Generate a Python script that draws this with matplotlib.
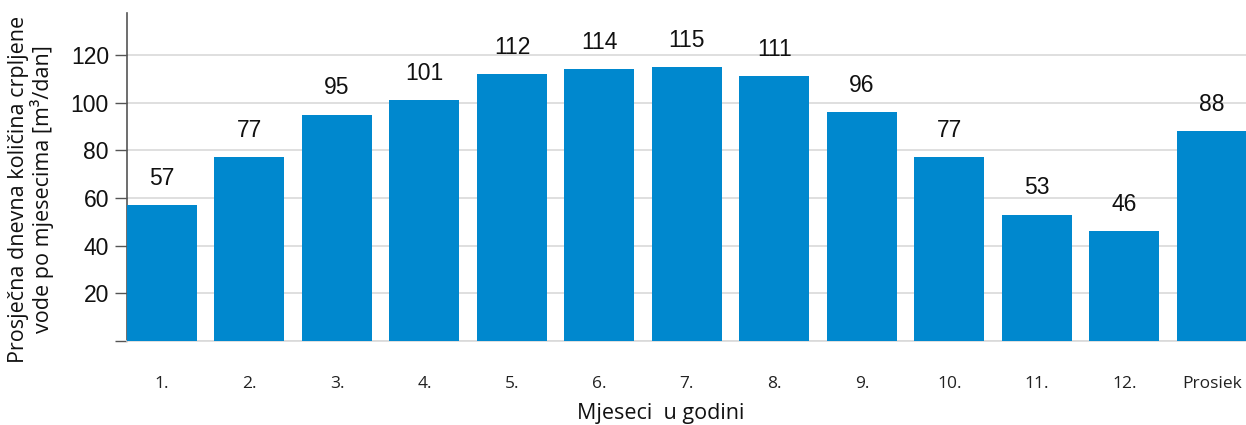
import matplotlib.pyplot as plt
from matplotlib.ticker import FixedLocator, FuncFormatter

# Monthly average daily pumped water volume
categories = ["1.", "2.", "3.", "4.", "5.", "6.", "7.", "8.", "9.", "10.", "11.", "12.", "Prosiek"]
values = [57, 77, 95, 101, 112, 114, 115, 111, 96, 77, 53, 46, 88]
y_ticks = [0, 20, 40, 60, 80, 100, 120]

bar_color = "#0088CE"
grid_color = "#D9D9D9"
num_font = ["Liberation Sans Narrow", "Liberation Sans"]

fig = plt.figure(figsize=(12.46, 4.25), dpi=100)
ax = fig.add_axes([127 / 1246, 1 - 341 / 425, (1246 - 127) / 1246, (341 - 13) / 425])

x = list(range(len(categories)))
ax.bar(x, values, width=0.8, color=bar_color, zorder=3)

ax.set_xlim(-0.4, len(categories) - 1 + 0.39)
ax.set_ylim(0, 137.6)

ax.yaxis.set_major_locator(FixedLocator(y_ticks))
ax.yaxis.set_major_formatter(FuncFormatter(lambda v, p: "" if v == 0 else f"{int(v)}"))
ax.grid(axis="y", color=grid_color, linewidth=1.2, zorder=0)
ax.set_axisbelow(True)

for label in ax.get_yticklabels():
    label.set_fontfamily(num_font)
    label.set_fontsize(16.5)
    label.set_color("#111111")
ax.tick_params(axis="y", length=9, width=1, color="#555555", pad=4)

ax.set_xticks(x)
ax.set_xticklabels(categories, fontfamily="Open Sans", fontsize=12.5, color="#222222")
ax.tick_params(axis="x", length=0, pad=25)

for side in ("top", "right"):
    ax.spines[side].set_visible(False)
ax.spines["left"].set_color("#555555")
ax.spines["left"].set_linewidth(1.2)
ax.spines["bottom"].set_color(grid_color)
ax.spines["bottom"].set_linewidth(1.2)

for xi, v in zip(x, values):
    ax.annotate(str(v), (xi, v), xytext=(0, 11), textcoords="offset points",
                ha="center", va="bottom", fontfamily=num_font,
                fontsize=16.5, color="#111111")

fig.text(31 / 1246, 1 - 189 / 425,
         "Prosječna dnevna količina crpljene\nvode po mjesecima [m³/dan]",
         rotation=90, ha="center", va="center", fontfamily="Open Sans",
         fontsize=15.5, color="#111111", linespacing=1.05)

fig.text(661 / 1246, 1 - 414 / 425, "Mjeseci  u godini",
         ha="center", va="center", fontfamily="Open Sans", fontsize=15.5,
         color="#111111")

fig.savefig("out.png", dpi=100)
